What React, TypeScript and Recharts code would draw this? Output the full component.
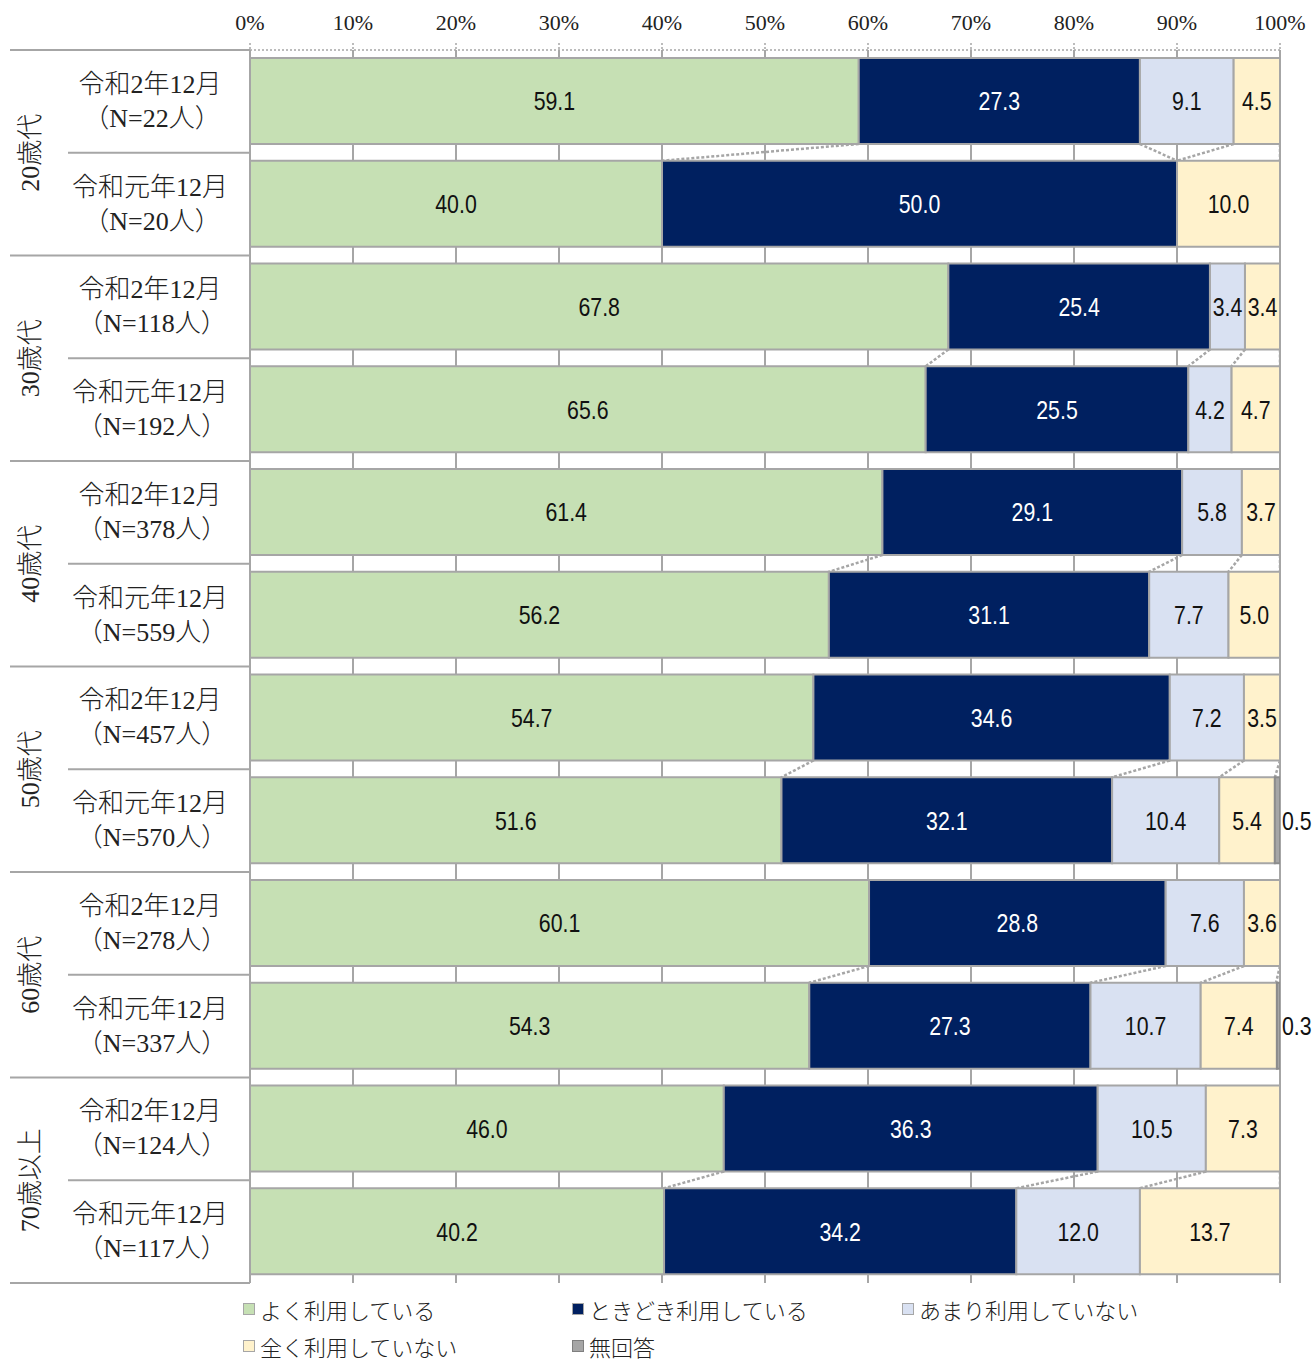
import React from 'react';
import { BarChart, Bar, XAxis, YAxis, CartesianGrid, LabelList, Legend } from 'recharts';

const groups = ['20歳代', '30歳代', '40歳代', '50歳代', '60歳代', '70歳以上'];
const periods = [
  '令和2年12月', '令和元年12月', '令和2年12月', '令和元年12月', '令和2年12月', '令和元年12月',
  '令和2年12月', '令和元年12月', '令和2年12月', '令和元年12月', '令和2年12月', '令和元年12月',
];
const sampleSizes = [22, 20, 118, 192, 378, 559, 457, 570, 278, 337, 124, 117];
const often = [59.1, 40.0, 67.8, 65.6, 61.4, 56.2, 54.7, 51.6, 60.1, 54.3, 46.0, 40.2];
const sometimes = [27.3, 50.0, 25.4, 25.5, 29.1, 31.1, 34.6, 32.1, 28.8, 27.3, 36.3, 34.2];
const rarely = [9.1, 0, 3.4, 4.2, 5.8, 7.7, 7.2, 10.4, 7.6, 10.7, 10.5, 12.0];
const never = [4.5, 10.0, 3.4, 4.7, 3.7, 5.0, 3.5, 5.4, 3.6, 7.4, 7.3, 13.7];
const noAnswer = [0, 0, 0, 0, 0, 0, 0, 0.5, 0, 0.3, 0, 0];
const xTicks = [0, 10, 20, 30, 40, 50, 60, 70, 80, 90, 100];

const seriesKeys = ['often', 'sometimes', 'rarely', 'never', 'noAnswer'];
const seriesNames = ['よく利用している', 'ときどき利用している', 'あまり利用していない', '全く利用していない', '無回答'];
const seriesColors = ['#C6E0B4', '#002060', '#D9E1F2', '#FFF2CC', '#A6A6A6'];
const labelColors = ['#111', '#fff', '#111', '#111', '#111'];

const data = periods.map((p, i) => ({
  id: `row${i}`,
  period: p,
  n: sampleSizes[i],
  group: groups[Math.floor(i / 2)],
  often: often[i],
  sometimes: sometimes[i],
  rarely: rarely[i],
  never: never[i],
  noAnswer: noAnswer[i],
}));

const W = 1316;
const H = 1362;
const TOP = 20;
const XAXIS_H = 30;
const BOTTOM = 79;
const YAXIS_W = 250;
const RIGHT = 36;
const BAND = (H - TOP - XAXIS_H - BOTTOM) / data.length;
const BAR = 86;
const GRAY = '#a6a6a6';
const SERIF = '"Liberation Serif", "DejaVu Serif", "Noto Sans CJK JP", serif';
const CJK = '"Noto Sans CJK JP", sans-serif';
const SANS = '"Liberation Sans", Arial, sans-serif';

const cum = (row: any, upto: number) => {
  let s = 0;
  for (let j = 0; j <= upto; j++) s += row[seriesKeys[j]] || 0;
  return s;
};

const makeShape = (k: number) => (props: any) => {
  const { x, y, width, height, index, payload } = props;
  if (!width || width <= 0) return <g />;
  const els: any[] = [
    <rect key="r" x={x} y={y} width={width} height={height} fill={seriesColors[k]} stroke={k === 4 ? '#8c8c8c' : GRAY} strokeWidth={2} />,
  ];
  const v = payload[seriesKeys[k]];
  if (index % 2 === 0 && v > 0 && k < 4 && data[index + 1]) {
    const s = width / v;
    const x0 = x - (cum(payload, k) - v) * s;
    const x2 = x0 + cum(data[index + 1], k) * s;
    const y1 = y + height;
    const y2 = y1 + (BAND - height);
    els.push(
      <line key="c" x1={x + width} y1={y1} x2={x2} y2={y2} stroke={GRAY} strokeWidth={2.5} strokeDasharray="3 2" />
    );
  }
  return <g>{els}</g>;
};

const makeLabel = (k: number) => (props: any) => {
  const vb = props.viewBox || props;
  const x = vb.x ?? props.x;
  const y = vb.y ?? props.y;
  const width = vb.width ?? props.width;
  const height = vb.height ?? props.height;
  const value = Number(props.value);
  if (!value) return null;
  const text = value.toFixed(1);
  const cy = y + height / 2;
  const cx = k === 4 ? x + width + 2 : x + width / 2;
  return (
    <text
      transform={`translate(${cx},${cy}) scale(0.82,1)`}
      x={0}
      y={0}
      textAnchor={k === 4 ? 'start' : 'middle'}
      dominantBaseline="central"
      fill={labelColors[k]}
      fontFamily={SANS}
      fontSize={26}
    >
      {text}
    </text>
  );
};

const CategoryTick = (props: any) => {
  const { y, payload } = props;
  const i = payload.index;
  const row = data[i];
  if (!row) return null;
  const half = BAND / 2;
  return (
    <g>
      {i === 0 && <line x1={10} x2={250} y1={y - half} y2={y - half} stroke={GRAY} strokeWidth={2} />}
      <line x1={i % 2 === 1 ? 10 : 68} x2={250} y1={y + half} y2={y + half} stroke={GRAY} strokeWidth={2} />
      <text x={150} y={y - 17} textAnchor="middle" dominantBaseline="central" fontFamily={SERIF} fontSize={26} fontWeight={300} fill="#222">
        {row.period}
      </text>
      <text x={152} y={y + 17} textAnchor="middle" dominantBaseline="central" fontFamily={SERIF} fontSize={26} fontWeight={300} fill="#222">
        {`（N=${row.n}人）`}
      </text>
      {i % 2 === 0 && (
        <text
          transform={`translate(30,${y + half}) rotate(-90)`}
          textAnchor="middle"
          dominantBaseline="central"
          fontFamily={SERIF}
          fontSize={26}
          fontWeight={300}
          fill="#222"
        >
          {row.group}
        </text>
      )}
    </g>
  );
};

const LegendContent = () => (
  <div style={{ position: 'relative', width: W, height: 60 }}>
    {seriesNames.map((name, k) => {
      const col = k < 3 ? k : k - 3;
      const rowN = k < 3 ? 0 : 1;
      const left = [243, 572, 902][col];
      return (
        <div
          key={name}
          style={{ position: 'absolute', left, top: rowN * 37, height: 22, display: 'flex', alignItems: 'center' }}
        >
          <span
            style={{
              display: 'inline-block',
              width: 10,
              height: 10,
              background: seriesColors[k],
              border: `1px solid ${k === 4 ? '#7f7f7f' : GRAY}`,
              marginRight: 5,
            }}
          />
          <span style={{ fontSize: 22, fontFamily: CJK, color: '#222', fontWeight: 300, whiteSpace: 'nowrap', lineHeight: '22px' }}>
            {name}
          </span>
        </div>
      );
    })}
  </div>
);

export default function App() {
  return (
    <div style={{ position: 'absolute', left: 0, top: 0, width: W, height: H, background: '#fff', overflow: 'hidden' }}>
      <BarChart
        width={W}
        height={H}
        data={data}
        layout="vertical"
        margin={{ top: TOP, right: RIGHT, bottom: BOTTOM, left: 0 }}
        barSize={BAR}
      >
        <CartesianGrid horizontal={false} vertical stroke={GRAY} strokeWidth={2} />
        <XAxis
          type="number"
          orientation="top"
          domain={[0, 100]}
          ticks={xTicks}
          allowDataOverflow
          height={XAXIS_H}
          tickFormatter={(v: number) => `${v}%`}
          axisLine={{ stroke: GRAY, strokeDasharray: '2 2', strokeWidth: 1.5 }}
          tickLine={{ stroke: GRAY, strokeDasharray: '2 2', strokeWidth: 1.5 }}
          tickSize={7}
          tickMargin={13}
          tick={{ fontFamily: SERIF, fontSize: 22, fill: '#222' }}
          interval={0}
        />
        <YAxis
          type="category"
          dataKey="id"
          width={YAXIS_W}
          interval={0}
          tickLine={false}
          axisLine={{ stroke: GRAY, strokeWidth: 2 }}
          tick={(p: any) => <CategoryTick {...p} />}
        />
        {seriesKeys.map((key, k) => (
          <Bar
            key={key}
            dataKey={key}
            name={seriesNames[k]}
            stackId="a"
            fill={seriesColors[k]}
            isAnimationActive={false}
            shape={makeShape(k)}
          >
            <LabelList dataKey={key} content={makeLabel(k)} />
          </Bar>
        ))}
        <Legend
          layout="vertical"
          align="center"
          verticalAlign="middle"
          wrapperStyle={{ position: 'absolute', left: 0, top: 1298, width: W, height: 60 }}
          content={() => <LegendContent />}
        />
      </BarChart>
    </div>
  );
}
